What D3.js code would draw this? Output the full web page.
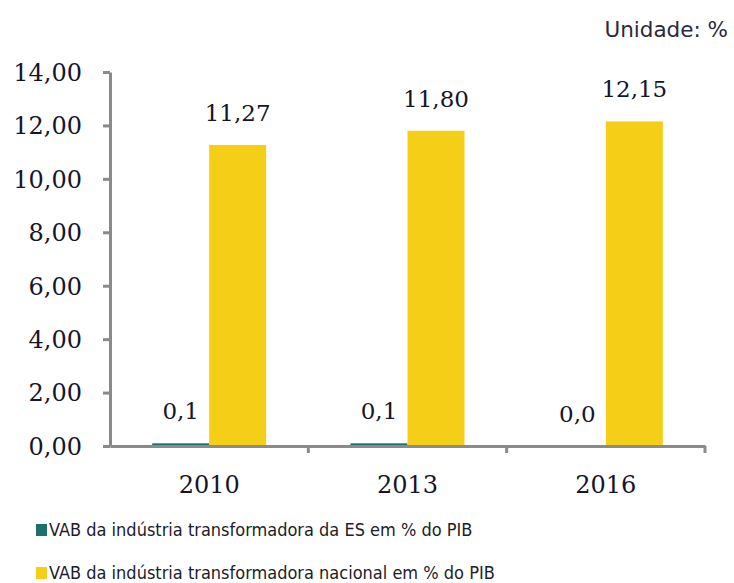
<!DOCTYPE html>
<html>
<head>
<meta charset="utf-8">
<style>
	body { margin: 0; background: #fff; }
	svg { display: block; }
	.axis path, .axis line { stroke: #8a8a8a; stroke-width: 3px; }
	.axis text { font-family: "DejaVu Serif", serif; font-size: 24px; fill: #15152a; }
	.val { font-family: "DejaVu Serif", serif; font-size: 23px; fill: #15152a; text-anchor: middle; }
	.leg { font-family: "DejaVu Sans Condensed", "DejaVu Sans", sans-serif; font-size: 18px; fill: #1c1c2a; }
	.unit { font-family: "DejaVu Sans", sans-serif; font-size: 21.5px; fill: #2a2a3a; }
</style>
</head>
<body>
<script src="https://d3js.org/d3.v7.min.js"></script>
<script>
	var years = ["2010", "2013", "2016"];
	var esValues = [0.1, 0.1, 0.0];
	var nacValues = [11.27, 11.80, 12.15];
	var yTicks = [0, 2, 4, 6, 8, 10, 12, 14];
	var seriesNames = ["VAB da indústria transformadora da ES em % do PIB",
		"VAB da indústria transformadora nacional em % do PIB"];
	var colors = ["#1d6f6b", "#f5cf17"];

	var W = 734, H = 583;
	var margin = {top: 72, left: 110, right: 29, bottom: 137};
	var width = W - margin.left - margin.right,
		height = H - margin.top - margin.bottom;

	var svg = d3.select("body").append("svg")
			.attr("width", W)
			.attr("height", H);

	svg.append("text")
			.attr("class", "unit")
			.attr("x", 728)
			.attr("y", 37)
			.attr("text-anchor", "end")
			.text("Unidade: %");

	var g = svg.append("g")
			.attr("transform", "translate(" + margin.left + "," + margin.top + ")");

	var x = d3.scaleBand().domain(years).range([0, width]);
	var y = d3.scaleLinear().domain([0, 14]).range([height, 0]);
	var barW = 57;
	var fmt = function(v, n) { return v.toFixed(n).replace(".", ","); };

	// ES bars (left of centre), nacional bars (right of centre)
	g.selectAll(".es").data(years).enter().append("rect")
			.attr("x", function(d) { return x(d) + x.bandwidth() / 2 - barW; })
			.attr("y", function(d, i) { return y(esValues[i]); })
			.attr("width", barW)
			.attr("height", function(d, i) { return height - y(esValues[i]); })
			.attr("fill", colors[0]);
	g.selectAll(".nac").data(years).enter().append("rect")
			.attr("x", function(d) { return x(d) + x.bandwidth() / 2; })
			.attr("y", function(d, i) { return y(nacValues[i]); })
			.attr("width", barW)
			.attr("height", function(d, i) { return height - y(nacValues[i]); })
			.attr("fill", colors[1]);

	g.selectAll(".vl1").data(years).enter().append("text")
			.attr("class", "val")
			.attr("x", function(d) { return x(d) + x.bandwidth() / 2 - barW / 2; })
			.attr("y", function(d, i) { return y(esValues[i]) - 24; })
			.text(function(d, i) { return fmt(esValues[i], 1); });
	g.selectAll(".vl2").data(years).enter().append("text")
			.attr("class", "val")
			.attr("x", function(d) { return x(d) + x.bandwidth() / 2 + barW / 2; })
			.attr("y", function(d, i) { return y(nacValues[i]) - 24; })
			.text(function(d, i) { return fmt(nacValues[i], 2); });

	var yAxis = g.append("g")
			.attr("class", "axis")
			.call(d3.axisLeft(y).tickValues(yTicks).tickSize(7).tickSizeOuter(0).tickPadding(21)
				.tickFormat(function(d) { return fmt(d, 2); }));
	yAxis.selectAll("text").attr("dy", "0.35em");

	var xAxis = g.append("g")
			.attr("class", "axis")
			.attr("transform", "translate(0," + height + ")")
			.call(d3.axisBottom(x).tickSize(0).tickPadding(30));
	// boundary ticks between categories
	xAxis.selectAll(".bt").data([1, 2, 3]).enter().append("line")
			.attr("x1", function(d) { return d * x.step(); })
			.attr("x2", function(d) { return d * x.step(); })
			.attr("y1", 0).attr("y2", 7);

	var leg = svg.append("g").attr("transform", "translate(36,0)");
	seriesNames.forEach(function(name, i) {
		var yy = 536 + i * 43;
		leg.append("rect")
				.attr("x", 0).attr("y", yy - 12)
				.attr("width", 11).attr("height", 12)
				.attr("fill", colors[i]);
		leg.append("text")
				.attr("class", "leg")
				.attr("x", 13).attr("y", yy)
				.text(name);
	});
</script>
</body>
</html>
